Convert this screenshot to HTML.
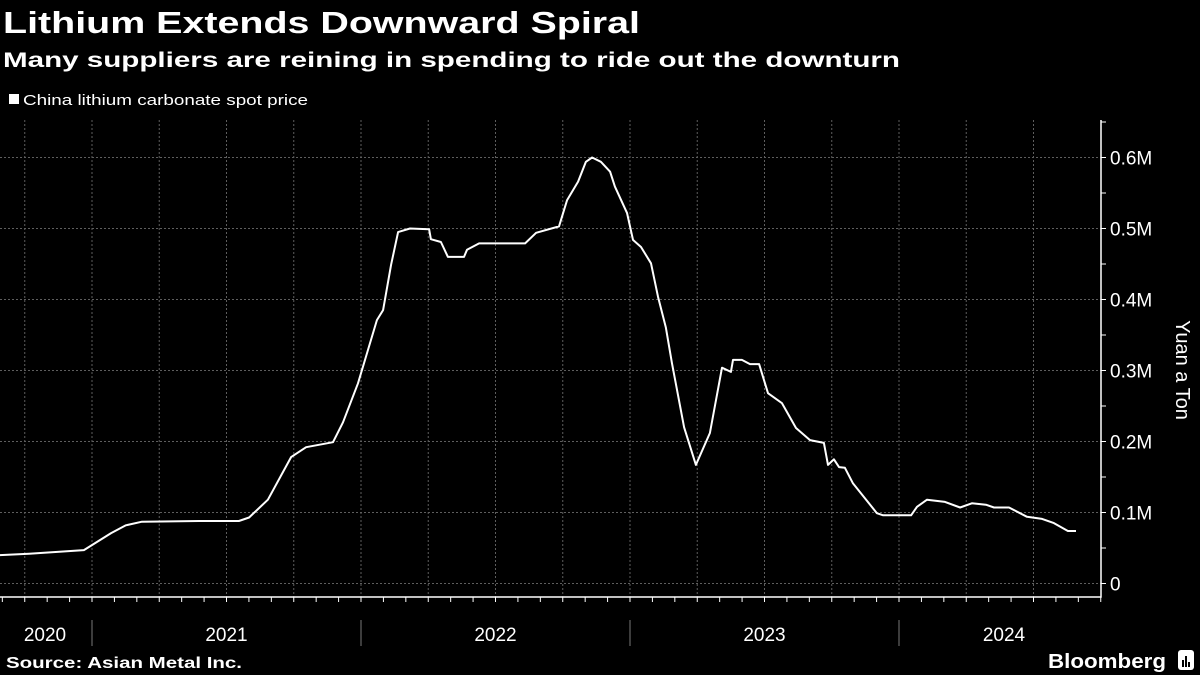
<!DOCTYPE html>
<html><head><meta charset="utf-8"><style>
html,body{margin:0;padding:0;background:#000;width:1200px;height:675px;overflow:hidden}
svg{display:block;font-family:"Liberation Sans",sans-serif}
</style></head><body>
<svg id="chart" width="1200" height="675" viewBox="0 0 1200 675">
<rect width="1200" height="675" fill="#000"/>
<text x="3" y="33" fill="#fff" font-size="31" font-weight="bold" textLength="637" lengthAdjust="spacingAndGlyphs">Lithium Extends Downward Spiral</text>
<text x="3" y="67" fill="#fff" font-size="21" font-weight="bold" textLength="897" lengthAdjust="spacingAndGlyphs">Many suppliers are reining in spending to ride out the downturn</text>
<g>
<rect x="9" y="94" width="10" height="10" fill="#fff"/>
<text x="23" y="105" fill="#fff" font-size="15" textLength="285" lengthAdjust="spacingAndGlyphs">China lithium carbonate spot price</text>
</g>
<g id="grid"></g>
<g id="axes"></g>
<path id="line" fill="none" stroke="#fff" stroke-width="2" stroke-linejoin="round"/>
<text transform="translate(1176,370) rotate(90)" text-anchor="middle" fill="#fff" font-size="20">Yuan a Ton</text>
<text x="6" y="668" fill="#fff" font-size="16" font-weight="bold" textLength="236" lengthAdjust="spacingAndGlyphs">Source: Asian Metal Inc.</text>
<text x="1048" y="668" fill="#fff" font-size="20" font-weight="bold" textLength="118" lengthAdjust="spacingAndGlyphs">Bloomberg</text>
<g>
<rect x="1178" y="650" width="16" height="20" rx="3" fill="#fff"/>
<rect x="1182" y="660" width="2" height="7" fill="#000"/><rect x="1185" y="656" width="2" height="11" fill="#000"/><rect x="1188" y="662" width="2" height="5" fill="#000"/>
</g>
</svg>
<script>
const dates=[2020.658,2020.766,2020.970,2021.071,2021.126,2021.186,2021.398,2021.546,2021.584,2021.654,2021.740,2021.796,2021.896,2021.933,2021.989,2022.026,2022.059,2022.082,2022.112,2022.138,2022.182,2022.253,2022.260,2022.297,2022.323,2022.383,2022.394,2022.439,2022.610,2022.651,2022.736,2022.766,2022.807,2022.836,2022.859,2022.892,2022.926,2022.944,2022.989,2023.011,2023.041,2023.078,2023.104,2023.133,2023.156,2023.201,2023.245,2023.297,2023.342,2023.375,2023.383,2023.416,2023.446,2023.480,2023.513,2023.565,2023.617,2023.669,2023.721,2023.736,2023.758,2023.777,2023.799,2023.829,2023.918,2023.941,2023.978,2024.045,2024.067,2024.104,2024.171,2024.227,2024.271,2024.323,2024.353,2024.409,2024.476,2024.532,2024.576,2024.628,2024.658];
const values=[0.040,0.042,0.047,0.071,0.082,0.087,0.088,0.088,0.093,0.118,0.178,0.192,0.199,0.227,0.282,0.329,0.371,0.385,0.449,0.495,0.500,0.499,0.485,0.481,0.460,0.460,0.470,0.479,0.479,0.494,0.503,0.540,0.566,0.594,0.600,0.594,0.580,0.559,0.522,0.484,0.474,0.451,0.404,0.361,0.310,0.220,0.167,0.212,0.304,0.298,0.315,0.315,0.309,0.309,0.268,0.254,0.219,0.202,0.198,0.167,0.175,0.164,0.163,0.141,0.099,0.096,0.096,0.096,0.108,0.118,0.115,0.107,0.113,0.111,0.107,0.107,0.094,0.091,0.085,0.074,0.074];
const yTicks=[0,0.1,0.2,0.3,0.4,0.5,0.6];
const yTickLabels=["0","0.1M","0.2M","0.3M","0.4M","0.5M","0.6M"];
const years=[2020,2021,2022,2023,2024];
const NS="http://www.w3.org/2000/svg";
const X=t=>92+(t-2021)*269;
const Y=v=>583.5-v*710;
const plotL=0,plotR=1101,plotT=120,plotB=597;
function mk(tag,attrs,parent){const e=document.createElementNS(NS,tag);for(const k in attrs)e.setAttribute(k,attrs[k]);parent.appendChild(e);return e;}
const grid=document.getElementById('grid'),axes=document.getElementById('axes');
yTicks.forEach((v,i)=>{
 const g=mk('line',{x1:plotL,x2:plotR,y1:Y(v),y2:Y(v),stroke:'#5e5e5e','stroke-width':1,'stroke-dasharray':'2,2'},grid);
 
 
 const t=mk('text',{x:1110,y:Y(v)+7,fill:'#fff','font-size':19},axes);
 
 
 t.textContent=yTickLabels[i];
});
for(let v=0;v<=0.65;v+=0.05){
 const tk=mk('line',{x1:plotR,x2:plotR+5,y1:Y(v),y2:Y(v),stroke:'#fff'},axes);
 
 
}
for(let q=2020.75;q<2024.75;q+=0.25){
 const g=mk('line',{x1:X(q),x2:X(q),y1:plotT,y2:plotB,stroke:'#5e5e5e','stroke-width':1,'stroke-dasharray':'2,2'},grid);
 
 
}
const ax=mk('path',{d:`M0 ${plotB} H${plotR} V${plotT}`,stroke:'#fff','stroke-width':1.5,fill:'none'},axes);


for(let m=2020+8/12;m<2024.75;m+=1/12){
 const tk=mk('line',{x1:X(m),x2:X(m),y1:plotB,y2:plotB+5,stroke:'#fff'},axes);
 
 
}
years.forEach(yr=>{
 if(yr>2020){const s=mk('line',{x1:X(yr),x2:X(yr),y1:620,y2:646,stroke:'#777'},axes);
 
 }
 const cx=yr===2020?45:(yr===2024?X(yr)+105:X(yr)+134.5);
 const t=mk('text',{x:cx,y:641,fill:'#fff','font-size':19,'text-anchor':'middle'},axes);
 
 
 t.textContent=String(yr);
});
document.getElementById('line').setAttribute('d',dates.map((d,i)=>(i?'L':'M')+X(d).toFixed(1)+' '+Y(values[i]).toFixed(1)).join(' '));
</script>
</body></html>
